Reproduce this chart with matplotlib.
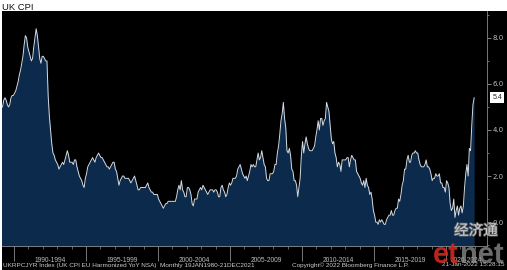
import numpy as np
import pandas as pd
import matplotlib
matplotlib.use("Agg")
import matplotlib.pyplot as plt
from matplotlib.patches import Rectangle
from matplotlib.ticker import MultipleLocator, FixedLocator
import matplotlib.patheffects as pe

# UK CPI (EU harmonized) YoY %, monthly, Jan 1989 - Dec 2021
cpi_yoy = [
    4.9, 5.0, 5.0, 5.3, 5.4, 5.3, 5.1, 5.0, 5.1, 5.4, 5.5, 5.5,   # 1989
    5.6, 5.7, 5.9, 6.1, 6.4, 6.6, 6.9, 7.2, 7.7, 8.1, 8.0, 7.6,   # 1990
    7.4, 7.2, 7.0, 7.1, 7.6, 8.0, 8.4, 8.1, 7.6, 7.1, 6.9, 7.2,   # 1991
    7.2, 7.1, 7.0, 7.0, 5.5, 4.6, 4.0, 3.4, 3.0, 2.9, 2.7, 2.6,   # 1992
    2.5, 2.3, 2.4, 2.5, 2.6, 2.5, 2.7, 2.9, 3.1, 2.9, 2.6, 2.6,   # 1993
    2.6, 2.5, 2.7, 2.7, 2.4, 2.2, 2.0, 1.9, 1.8, 1.6, 1.5, 1.9,   # 1994
    2.1, 2.4, 2.5, 2.6, 2.7, 2.8, 2.7, 2.6, 2.8, 2.9, 3.0, 2.9,   # 1995
    2.8, 2.8, 2.7, 2.6, 2.5, 2.4, 2.4, 2.3, 2.4, 2.5, 2.6, 2.6,   # 1996
    2.3, 2.2, 1.9, 1.6, 1.8, 1.9, 2.0, 2.0, 1.9, 1.9, 1.9, 1.9,   # 1997
    1.8, 1.7, 1.8, 1.9, 2.0, 1.8, 1.6, 1.4, 1.4, 1.5, 1.5, 1.5,   # 1998
    1.5, 1.5, 1.6, 1.7, 1.5, 1.4, 1.3, 1.3, 1.2, 1.2, 1.2, 1.2,   # 1999
    1.0, 0.9, 0.8, 0.7, 0.6, 0.7, 0.8, 0.8, 0.9, 0.9, 0.9, 0.9,   # 2000
    0.9, 0.9, 0.9, 1.1, 1.4, 1.6, 1.4, 1.8, 1.4, 1.3, 1.1, 1.1,   # 2001
    1.5, 1.5, 1.4, 1.2, 0.8, 0.7, 1.0, 1.0, 1.0, 1.3, 1.4, 1.5,   # 2002
    1.4, 1.6, 1.5, 1.4, 1.3, 1.2, 1.3, 1.4, 1.4, 1.4, 1.3, 1.4,   # 2003
    1.4, 1.3, 1.1, 1.1, 1.5, 1.6, 1.4, 1.3, 1.1, 1.2, 1.5, 1.7,   # 2004
    1.6, 1.7, 1.9, 1.9, 1.9, 2.0, 2.3, 2.4, 2.5, 2.3, 2.1, 2.0,   # 2005
    1.9, 2.0, 1.8, 2.0, 2.2, 2.5, 2.4, 2.5, 2.4, 2.4, 2.7, 3.0,   # 2006
    2.7, 2.8, 3.1, 2.8, 2.5, 2.4, 1.9, 1.8, 1.8, 2.1, 2.1, 2.1,   # 2007
    2.2, 2.5, 2.5, 3.0, 3.3, 3.8, 4.4, 4.7, 5.2, 4.5, 4.1, 3.1,   # 2008
    3.0, 3.2, 2.9, 2.3, 2.2, 1.8, 1.8, 1.6, 1.1, 1.5, 1.9, 2.9,   # 2009
    3.5, 3.0, 3.4, 3.7, 3.4, 3.2, 3.1, 3.1, 3.1, 3.2, 3.3, 3.7,   # 2010
    4.0, 4.4, 4.0, 4.5, 4.5, 4.2, 4.4, 4.5, 5.2, 5.0, 4.8, 4.2,   # 2011
    3.6, 3.4, 3.5, 3.0, 2.8, 2.4, 2.6, 2.5, 2.2, 2.7, 2.7, 2.7,   # 2012
    2.7, 2.8, 2.8, 2.4, 2.7, 2.9, 2.8, 2.7, 2.7, 2.2, 2.1, 2.0,   # 2013
    1.9, 1.7, 1.6, 1.8, 1.5, 1.9, 1.6, 1.5, 1.2, 1.3, 1.0, 0.5,   # 2014
    0.3, 0.0, 0.0, -0.1, 0.1, 0.0, 0.1, 0.0, -0.1, -0.1, 0.1, 0.2,  # 2015
    0.3, 0.3, 0.5, 0.3, 0.3, 0.5, 0.6, 0.6, 1.0, 0.9, 1.2, 1.6,   # 2016
    1.8, 2.3, 2.3, 2.7, 2.9, 2.6, 2.6, 2.9, 3.0, 3.0, 3.1, 3.0,   # 2017
    3.0, 2.7, 2.5, 2.4, 2.4, 2.4, 2.5, 2.7, 2.4, 2.4, 2.3, 2.1,   # 2018
    1.8, 1.9, 1.9, 2.1, 2.0, 2.0, 2.1, 1.7, 1.7, 1.5, 1.5, 1.3,   # 2019
    1.8, 1.7, 1.5, 0.8, 0.5, 0.6, 1.0, 0.2, 0.5, 0.7, 0.3, 0.6,   # 2020
    0.7, 0.4, 0.7, 1.5, 2.1, 2.5, 2.0, 3.2, 3.1, 4.2, 5.1, 5.4,   # 2021
]
period_labels = ["1990-1994", "1995-1999", "2000-2004", "2005-2009",
                 "2010-2014", "2015-2019", "2020-2024"]
period_starts = [1990, 1995, 2000, 2005, 2010, 2015, 2020]
last_value = 5.4

months = pd.date_range("1989-01-01", periods=len(cpi_yoy), freq="MS")
x = months.year + (months.month - 0.5) / 12.0
y = np.array(cpi_yoy)

W, H = 507, 270
fig = plt.figure(figsize=(W / 100, H / 100), dpi=100)
fig.patch.set_facecolor("white")
fig.add_artist(Rectangle((2 / W, 0), 1, (H - 11) / H, transform=fig.transFigure,
                         facecolor="black", edgecolor="none", zorder=0))

ax = fig.add_axes([2 / W, (H - 246) / H, 485 / W, 235 / H])
ax.set_facecolor("black")
xmin, xmax = 1989.17, 2022.85
ax.set_xlim(xmin, xmax)
ax.set_ylim(-1.04, 9.17)

ax.fill_between(x, y, -2, color="#0c2a4b", lw=0)
ax.plot(x, y, color="#d4dbe3", lw=0.7)

for s in ["top", "left"]:
    ax.spines[s].set_visible(False)
for s in ["right", "bottom"]:
    ax.spines[s].set_color("#8a8a8a")
    ax.spines[s].set_linewidth(0.6)

# right value axis
ax.yaxis.tick_right()
ax.set_yticks([0, 2, 4, 6, 8])
ax.set_yticklabels(["0.0", "2.0", "4.0", "6.0", "8.0"])
ax.yaxis.set_minor_locator(MultipleLocator(1))
ax.tick_params(axis="y", which="major", direction="out", length=3, width=0.6,
               color="#9a9a9a", labelcolor="#bdbdbd", labelsize=5, pad=1)
ax.tick_params(axis="y", which="minor", direction="out", length=1.5, width=0.5,
               color="#9a9a9a")

# bottom time axis
ax.xaxis.set_major_locator(FixedLocator(period_starts))
ax.xaxis.set_minor_locator(FixedLocator(list(range(1990, 2023))))
ax.set_xticklabels([])
ax.tick_params(axis="x", which="major", direction="out", length=11, width=0.6,
               color="#8a8a8a")
ax.tick_params(axis="x", which="minor", direction="out", length=2, width=0.5,
               color="#8a8a8a")
for start, lab in zip(period_starts, period_labels):
    center = (start + min(start + 5, xmax)) / 2
    ax.text(center, -0.045, lab, transform=ax.get_xaxis_transform(),
            ha="center", va="top", fontsize=4.8, color="#bdbdbd",
            family="Liberation Sans")

# last value tag
ax.annotate(f"{last_value:.1f}", xy=(1.0, last_value),
            xycoords=("axes fraction", "data"), xytext=(4, 0),
            textcoords="offset points", ha="left", va="center", fontsize=5,
            color="#222222", family="Liberation Sans",
            bbox=dict(boxstyle="square,pad=0.3", fc="white", ec="none"))

fig.text(2 / W, 1 - 7 / H, "UK CPI", ha="left", va="center", fontsize=6.8,
         color="#111111", family="Liberation Sans")

fig.text(3 / W, 1 - 265 / H,
         "UKRPCJYR Index (UK CPI EU Harmonized YoY NSA)  Monthly 19JAN1980-21DEC2021",
         ha="left", va="center", fontsize=4.6, color="#cccccc",
         family="Liberation Sans")
fig.text(292 / W, 1 - 265 / H, "Copyright\u00a9 2022 Bloomberg Finance L.P.",
         ha="left", va="center", fontsize=4.6, color="#cccccc",
         family="Liberation Sans")
fig.text(504 / W, 1 - 265 / H, "21-Jan-2022 15:28:15",
         ha="right", va="center", fontsize=4.6, color="#cccccc",
         family="Liberation Sans")

# watermark
fig.text(476 / W, 1 - 231 / H, "经济通", ha="center", va="center", fontsize=10.5,
         color="#e0e0e0", alpha=0.8, family=["Noto Sans CJK SC", "DejaVu Sans"],
         path_effects=[pe.withStroke(linewidth=1.2, foreground="#707070")])
fig.text(433 / W, 1 - 255 / H, "et", ha="left", va="center", fontsize=21,
         fontweight="bold", color="#d2281e", alpha=0.9, family="Liberation Sans")
fig.text(460 / W, 1 - 255 / H, "net", ha="left", va="center", fontsize=21,
         fontweight="bold", color="#9a9a9a", alpha=0.7, family="Liberation Sans")

fig.savefig("out.png", dpi=100, facecolor=fig.get_facecolor())
